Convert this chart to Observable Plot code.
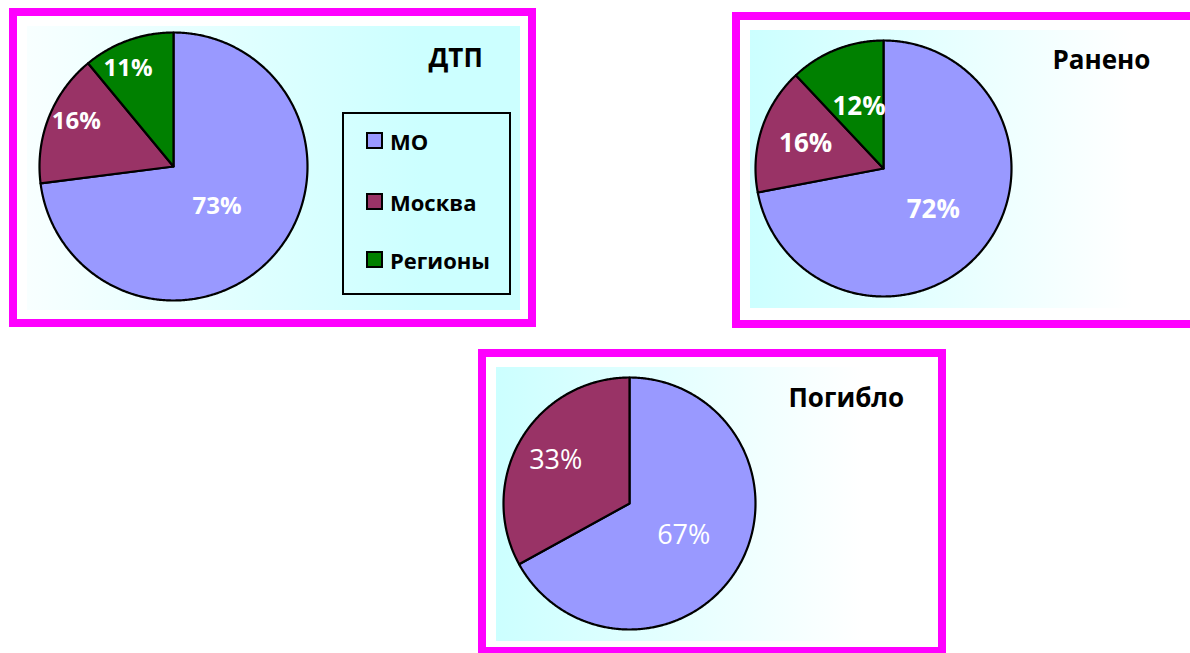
<!DOCTYPE html>
<html><head><meta charset="utf-8">
<script src="https://cdn.jsdelivr.net/npm/d3@7"></script>
<script src="https://cdn.jsdelivr.net/npm/@observablehq/plot@0.6"></script>
<style>
html,body{margin:0;padding:0;background:#fff;}
body{width:1190px;height:653px;overflow:hidden;position:relative;font-family:"Open Sans",sans-serif;}
.frame{position:absolute;box-sizing:border-box;border:8px solid #ff00ff;background:#fff;}
.area{position:absolute;}
.area svg{display:block;}
.legend{position:absolute;box-sizing:border-box;border:2px solid #000;}
.item{position:absolute;display:flex;align-items:center;font-weight:bold;font-size:22px;color:#000;height:17px;white-space:nowrap;}
.sw{width:17px;height:17px;box-sizing:border-box;border:2px solid #000;margin-right:7px;flex:none;}
</style></head><body>
<script>
// ---- data ----
const categories = ["МО", "Москва", "Регионы"];
const colors = ["#9999ff", "#993366", "#008000"];
const titles = ["ДТП", "Ранено", "Погибло"];
const dtpValues = [73, 16, 11];
const injuredValues = [72, 16, 12];
const killedValues = [67, 33];

// ---- layout ----
const panels = [
  {values: dtpValues, title: titles[0],
   frame: [9, 8, 527, 319], area: [27, 26, 493, 284],
   cx: 146, cy: 140, r: 134, labelR: [0.44, 0.80, 0.81], labelDA: [1, 3.4, -5],
   labelSize: 24, labelWeight: "bold", titlePos: [401, 22],
   bg: "linear-gradient(to right, #f8ffff 0%, #ccffff 80%, #ccffff 100%)"},
  {values: injuredValues, title: titles[1],
   frame: [732, 12, 470, 316], area: [750, 30, 450, 278],
   cx: 133, cy: 138, r: 128, labelR: [0.505, 0.64, 0.52], labelDA: [0, 0, 0],
   labelSize: 26, labelWeight: "bold", titlePos: [302, 20],
   bg: "linear-gradient(to right, #ccffff 0%, #ffffff 85%)"},
  {values: killedValues, title: titles[2],
   frame: [478, 349, 468, 306], area: [496, 367, 432, 274],
   cx: 133, cy: 136, r: 126, labelR: [0.5, 0.68], labelDA: [0, 0],
   labelSize: 27, labelWeight: "normal", titlePos: [292, 21],
   bg: "linear-gradient(to right, #ccffff 0%, #ffffff 85%)"}
];

function slicePoints(values) {
  const arcs = d3.pie().sort(null).value(d => d)(values);
  const pts = [];
  arcs.forEach((a, i) => {
    pts.push({x: 0, y: 0, name: categories[i]});
    const n = Math.max(2, Math.ceil((a.endAngle - a.startAngle) / (Math.PI / 360)));
    for (let k = 0; k <= n; k++) {
      const t = a.startAngle + (a.endAngle - a.startAngle) * k / n;
      pts.push({x: Math.sin(t), y: Math.cos(t), name: categories[i]});
    }
  });
  return {arcs, pts};
}

for (const p of panels) {
  const fr = document.createElement("div");
  fr.className = "frame";
  Object.assign(fr.style, {left: p.frame[0] + "px", top: p.frame[1] + "px", width: p.frame[2] + "px", height: p.frame[3] + "px"});
  document.body.appendChild(fr);

  const ar = document.createElement("div");
  ar.className = "area";
  Object.assign(ar.style, {left: p.area[0] + "px", top: p.area[1] + "px", width: p.area[2] + "px", height: p.area[3] + "px", background: p.bg});
  document.body.appendChild(ar);

  const {arcs, pts} = slicePoints(p.values);
  const labels = arcs.map((a, i) => {
    const m = (a.startAngle + a.endAngle) / 2 + p.labelDA[i] * Math.PI / 180;
    const rr = p.labelR[i];
    return {x: rr * Math.sin(m), y: rr * Math.cos(m), text: a.data + "%"};
  });

  const chart = Plot.plot({
    width: p.area[2], height: p.area[3],
    margin: 0,
    style: {background: "transparent", fontFamily: "'Open Sans', sans-serif", overflow: "visible"},
    x: {domain: [-1, 1], range: [p.cx - p.r, p.cx + p.r], axis: null},
    y: {domain: [-1, 1], range: [p.cy + p.r, p.cy - p.r], axis: null},
    color: {domain: categories, range: colors},
    marks: [
      Plot.line(pts, {x: "x", y: "y", z: "name", fill: "name", stroke: "black", strokeWidth: 2.2, strokeLinejoin: "round", curve: "linear-closed"}),
      Plot.text(labels, {x: "x", y: "y", text: "text", fill: "white", fontSize: p.labelSize, fontWeight: p.labelWeight, textAnchor: "middle", lineAnchor: "middle"}),
      Plot.text([p.title], {text: d => d, frameAnchor: "top-left", dx: p.titlePos[0], dy: p.titlePos[1], textAnchor: "start", lineAnchor: "top", fontSize: 26, fontWeight: "bold", fill: "black"})
    ]
  });
  ar.appendChild(chart);
}

// legend for the first panel
const lg = document.createElement("div");
lg.className = "legend";
Object.assign(lg.style, {left: "342px", top: "112px", width: "169px", height: "183px"});
document.body.appendChild(lg);
const itemTops = [132, 193, 251];
categories.forEach((c, i) => {
  const it = document.createElement("div");
  it.className = "item";
  Object.assign(it.style, {left: "366px", top: itemTops[i] + "px"});
  const sw = document.createElement("div");
  sw.className = "sw";
  sw.style.background = colors[i];
  const tx = document.createElement("span");
  tx.textContent = c;
  it.appendChild(sw); it.appendChild(tx);
  document.body.appendChild(it);
});
</script>
</body></html>
